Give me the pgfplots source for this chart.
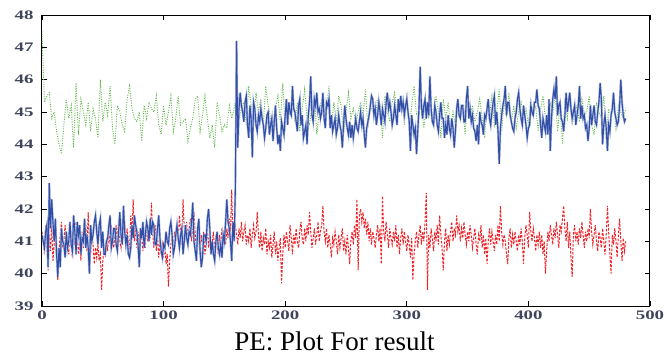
\documentclass[border=0pt]{standalone}
\usepackage{fontspec}
\usepackage{pgfplots}
\usepackage{pgfplotstable}
\pgfplotsset{compat=1.18}
\setmainfont{Liberation Serif}
\newfontfamily\tickfont[FakeStretch=1.45]{Liberation Serif Bold}
\definecolor{blueL}{RGB}{50,78,165}
\definecolor{blueH}{RGB}{178,190,228}
\definecolor{redL}{RGB}{238,34,40}
\definecolor{greenL}{RGB}{96,182,74}
\definecolor{tickc}{RGB}{64,68,92}

\pgfplotstableread[row sep=\\]{
y\\
41.2\\ 41.0\\ 40.8\\ 41.3\\ 41.5\\ 40.2\\ 42.8\\ 41.4\\ 42.3\\ 41.6\\
41.0\\ 41.7\\ 40.6\\ 39.9\\ 40.8\\ 40.2\\ 41.4\\ 41.0\\ 40.9\\ 40.5\\
41.3\\ 40.8\\ 41.0\\ 41.6\\ 40.9\\ 40.7\\ 41.8\\ 41.3\\ 40.6\\ 41.6\\
41.2\\ 41.5\\ 40.6\\ 41.1\\ 41.0\\ 41.7\\ 40.8\\ 41.2\\ 40.8\\ 40.0\\
41.5\\ 41.0\\ 41.2\\ 41.6\\ 41.8\\ 41.3\\ 40.9\\ 41.5\\ 41.7\\ 40.8\\
41.3\\ 40.6\\ 40.6\\ 41.0\\ 41.1\\ 41.5\\ 41.8\\ 40.8\\ 41.0\\ 41.4\\
41.4\\ 40.9\\ 40.7\\ 41.3\\ 41.9\\ 41.2\\ 40.9\\ 42.1\\ 41.3\\ 40.9\\
41.2\\ 40.6\\ 40.5\\ 40.8\\ 41.5\\ 41.1\\ 41.8\\ 41.5\\ 41.3\\ 40.9\\
40.2\\ 41.4\\ 41.1\\ 41.6\\ 40.8\\ 41.2\\ 41.6\\ 41.4\\ 41.0\\ 41.7\\
41.2\\ 41.6\\ 41.5\\ 40.9\\ 40.9\\ 41.4\\ 41.8\\ 41.1\\ 40.7\\ 40.5\\
40.9\\ 40.8\\ 41.3\\ 41.0\\ 40.9\\ 41.4\\ 41.6\\ 41.2\\ 40.6\\ 40.8\\
41.2\\ 41.5\\ 41.1\\ 40.8\\ 41.2\\ 41.4\\ 40.6\\ 41.0\\ 41.5\\ 41.1\\
40.9\\ 41.3\\ 41.2\\ 41.6\\ 42.2\\ 41.0\\ 40.7\\ 40.4\\ 41.4\\ 41.7\\
40.7\\ 40.2\\ 40.5\\ 41.2\\ 41.2\\ 41.0\\ 41.7\\ 42.0\\ 41.4\\ 40.6\\
41.0\\ 40.6\\ 40.4\\ 41.0\\ 41.3\\ 40.8\\ 40.6\\ 40.9\\ 40.5\\ 41.2\\
41.0\\ 41.6\\ 42.3\\ 41.6\\ 41.4\\ 41.0\\ 40.4\\ 41.6\\ 41.0\\ 42.6\\
47.2\\ 43.9\\ 45.1\\ 45.6\\ 45.2\\ 45.0\\ 44.7\\ 45.3\\ 45.5\\ 44.6\\
44.2\\ 45.2\\ 44.8\\ 43.6\\ 45.3\\ 45.1\\ 44.6\\ 44.4\\ 44.9\\ 44.7\\
45.1\\ 44.8\\ 44.6\\ 44.2\\ 44.5\\ 44.9\\ 45.0\\ 44.3\\ 44.6\\ 44.8\\
44.1\\ 44.7\\ 45.2\\ 44.5\\ 44.0\\ 44.3\\ 43.8\\ 44.7\\ 44.5\\ 44.3\\
44.9\\ 45.4\\ 44.6\\ 45.3\\ 45.0\\ 44.9\\ 45.8\\ 45.1\\ 45.0\\ 44.7\\
44.4\\ 45.2\\ 45.4\\ 44.6\\ 44.9\\ 44.2\\ 44.4\\ 44.6\\ 44.0\\ 44.9\\
45.3\\ 46.1\\ 44.9\\ 44.7\\ 45.4\\ 45.2\\ 45.6\\ 45.0\\ 45.1\\ 44.8\\
45.0\\ 45.6\\ 44.8\\ 44.5\\ 45.3\\ 45.2\\ 45.4\\ 44.5\\ 44.9\\ 44.4\\
44.6\\ 44.8\\ 44.3\\ 44.5\\ 44.9\\ 44.6\\ 44.4\\ 43.9\\ 44.6\\ 45.2\\
44.8\\ 44.5\\ 44.3\\ 44.7\\ 44.2\\ 44.6\\ 44.2\\ 44.5\\ 44.8\\ 44.5\\
44.4\\ 44.7\\ 45.0\\ 44.6\\ 44.8\\ 44.3\\ 43.9\\ 44.5\\ 44.7\\ 44.9\\
45.2\\ 45.5\\ 45.4\\ 44.9\\ 45.1\\ 44.6\\ 44.9\\ 45.3\\ 45.0\\ 44.6\\
45.1\\ 44.9\\ 44.7\\ 45.3\\ 45.6\\ 45.1\\ 45.3\\ 45.0\\ 44.6\\ 44.8\\
45.2\\ 44.9\\ 44.6\\ 45.4\\ 45.0\\ 45.5\\ 45.1\\ 45.3\\ 44.9\\ 45.2\\
45.4\\ 45.0\\ 44.7\\ 43.8\\ 44.9\\ 44.6\\ 44.3\\ 44.5\\ 43.7\\ 44.4\\
45.1\\ 46.4\\ 45.2\\ 44.8\\ 45.2\\ 45.4\\ 44.8\\ 45.3\\ 44.9\\ 46.1\\
45.1\\ 44.7\\ 44.6\\ 45.2\\ 45.0\\ 44.6\\ 44.4\\ 44.9\\ 45.3\\ 44.8\\
44.8\\ 44.2\\ 44.6\\ 44.3\\ 44.9\\ 44.5\\ 44.3\\ 44.8\\ 44.5\\ 43.9\\
44.4\\ 45.1\\ 45.4\\ 44.9\\ 44.8\\ 45.2\\ 45.2\\ 44.7\\ 44.7\\ 45.4\\
45.8\\ 44.8\\ 45.1\\ 44.7\\ 44.9\\ 44.5\\ 44.4\\ 44.1\\ 44.6\\ 44.0\\
45.0\\ 44.7\\ 44.6\\ 44.3\\ 44.9\\ 44.8\\ 45.1\\ 45.4\\ 44.8\\ 44.6\\
45.0\\ 45.3\\ 45.5\\ 44.6\\ 45.0\\ 44.4\\ 43.4\\ 44.5\\ 44.9\\ 45.2\\
45.4\\ 45.8\\ 44.9\\ 45.3\\ 45.3\\ 44.9\\ 44.7\\ 44.5\\ 44.4\\ 44.8\\
45.0\\ 45.4\\ 45.6\\ 45.1\\ 44.8\\ 44.6\\ 45.2\\ 44.9\\ 44.6\\ 44.2\\
44.5\\ 44.6\\ 45.2\\ 45.0\\ 44.9\\ 45.3\\ 45.3\\ 45.7\\ 45.2\\ 45.1\\
44.6\\ 44.2\\ 44.8\\ 44.6\\ 44.4\\ 44.9\\ 44.3\\ 45.4\\ 43.8\\ 44.8\\
45.4\\ 45.7\\ 45.4\\ 46.1\\ 44.9\\ 45.2\\ 45.3\\ 44.8\\ 44.7\\ 44.4\\
44.9\\ 45.6\\ 45.0\\ 45.3\\ 45.6\\ 45.1\\ 44.8\\ 45.0\\ 45.2\\ 44.6\\
44.9\\ 45.2\\ 45.8\\ 44.8\\ 45.2\\ 44.8\\ 44.9\\ 44.5\\ 44.6\\ 44.1\\
44.5\\ 45.2\\ 44.6\\ 44.9\\ 45.2\\ 44.7\\ 44.6\\ 45.0\\ 45.3\\ 45.9\\
45.4\\ 44.0\\ 44.6\\ 44.9\\ 44.5\\ 43.8\\ 44.6\\ 44.4\\ 44.9\\ 45.1\\
45.6\\ 45.0\\ 44.8\\ 44.6\\ 44.7\\ 45.2\\ 46.0\\ 45.3\\ 44.9\\ 44.7\\
44.8\\
}\blueT

\begin{document}
\begin{tikzpicture}
\path[use as bounding box] (-42pt,-54pt) rectangle (625pt,306pt);
\begin{axis}[
  scale only axis,
  width=608pt, height=291pt,
  xmin=0, xmax=500, ymin=39, ymax=48,
  xtick={0,100,...,500}, ytick={39,40,...,48},
  tick align=inside,
  major tick length=5pt,
  tick style={black, line width=0.8pt},
  axis line style={line width=1pt},
  ticklabel style={font=\tickfont\fontsize{13}{13}\selectfont, text=tickc},
  /pgf/number format/assume math mode=true,
  yticklabel style={xshift=-5pt},
  xticklabel style={yshift=-1pt},
  xlabel={PE: Plot For result},
  xlabel style={font=\fontsize{27}{29}\selectfont, at={(rel axis cs:0.481,0)}, anchor=base, yshift=-44pt},
  clip=true,
]
\addplot[greenL, line width=0.9pt, dash pattern=on 1pt off 1.4pt] table[row sep=\\, x expr=\coordindex*2, y index=0] {
y\\
47.5\\ 45.3\\ 45.5\\ 45.6\\ 44.8\\ 45.0\\ 44.4\\ 44.0\\ 43.7\\ 44.6\\
45.4\\ 44.8\\ 45.2\\ 43.9\\ 45.9\\ 44.3\\ 45.4\\ 45.0\\ 44.6\\ 45.3\\
44.4\\ 45.1\\ 44.8\\ 44.2\\ 46.0\\ 44.7\\ 45.3\\ 44.9\\ 45.8\\ 44.5\\
44.0\\ 45.2\\ 45.0\\ 44.6\\ 44.4\\ 45.4\\ 45.8\\ 45.1\\ 44.8\\ 44.7\\
45.0\\ 44.1\\ 45.2\\ 44.8\\ 45.3\\ 45.1\\ 45.0\\ 45.5\\ 44.6\\ 44.3\\
45.2\\ 44.6\\ 45.0\\ 45.5\\ 44.4\\ 44.8\\ 45.5\\ 44.6\\ 44.7\\ 44.8\\
44.1\\ 44.5\\ 44.8\\ 45.4\\ 45.5\\ 44.4\\ 44.9\\ 45.5\\ 44.8\\ 44.2\\
44.6\\ 43.9\\ 45.3\\ 44.9\\ 44.4\\ 44.6\\ 44.5\\ 45.2\\ 44.8\\ 45.1\\
45.5\\ 44.8\\ 45.1\\ 45.3\\ 44.6\\ 45.8\\ 45.2\\ 44.8\\ 45.6\\ 45.0\\
45.4\\ 44.6\\ 45.8\\ 45.2\\ 44.8\\ 44.3\\ 45.1\\ 45.5\\ 44.7\\ 45.9\\
44.5\\ 45.0\\ 44.9\\ 45.6\\ 44.7\\ 45.3\\ 44.4\\ 45.1\\ 45.7\\ 44.8\\
44.6\\ 45.2\\ 45.5\\ 44.3\\ 45.0\\ 45.4\\ 44.9\\ 45.1\\ 45.8\\ 44.5\\
45.3\\ 44.7\\ 45.5\\ 45.2\\ 44.3\\ 45.0\\ 45.6\\ 44.8\\ 45.1\\ 44.6\\
45.0\\ 45.3\\ 44.9\\ 45.7\\ 44.5\\ 45.2\\ 45.0\\ 44.8\\ 45.4\\ 45.3\\
44.2\\ 45.5\\ 45.0\\ 44.7\\ 45.3\\ 45.6\\ 44.9\\ 45.1\\ 45.5\\ 44.6\\
45.6\\ 44.4\\ 45.2\\ 45.8\\ 44.9\\ 45.0\\ 45.3\\ 44.5\\ 45.1\\ 44.8\\
45.2\\ 44.6\\ 45.5\\ 45.0\\ 44.2\\ 45.4\\ 44.8\\ 45.3\\ 44.5\\ 45.0\\
44.6\\ 45.4\\ 44.8\\ 45.1\\ 44.3\\ 45.6\\ 44.9\\ 45.2\\ 44.7\\ 45.0\\
45.4\\ 44.8\\ 44.2\\ 45.3\\ 44.9\\ 45.5\\ 44.6\\ 45.0\\ 45.7\\ 44.4\\
45.3\\ 44.9\\ 45.6\\ 44.7\\ 45.2\\ 44.5\\ 45.0\\ 45.3\\ 44.8\\ 45.1\\
44.6\\ 45.4\\ 44.9\\ 45.2\\ 44.4\\ 45.1\\ 45.5\\ 44.8\\ 44.3\\ 45.3\\
44.9\\ 45.6\\ 44.4\\ 45.2\\ 44.0\\ 45.3\\ 44.8\\ 45.5\\ 44.6\\ 45.0\\
45.2\\ 44.7\\ 45.4\\ 44.9\\ 45.0\\ 45.5\\ 44.6\\ 44.3\\ 45.3\\ 45.0\\
44.8\\ 45.5\\ 44.2\\ 45.1\\ 44.9\\ 45.6\\ 44.4\\ 45.2\\ 45.0\\ 44.8\\
45.1\\
};
\addplot[redL, line width=1pt, dash pattern=on 2.5pt off 1.5pt] table[row sep=\\, x expr=\coordindex, y index=0] {
y\\
41.3\\ 41.0\\ 40.6\\ 41.5\\ 40.9\\ 40.1\\ 41.2\\ 40.7\\ 41.6\\ 40.4\\
40.9\\ 41.3\\ 40.5\\ 39.8\\ 40.7\\ 41.2\\ 41.6\\ 40.8\\ 41.0\\ 41.5\\
40.7\\ 41.1\\ 40.6\\ 41.4\\ 41.0\\ 40.5\\ 41.2\\ 40.9\\ 41.6\\ 41.1\\
40.6\\ 41.0\\ 40.4\\ 41.3\\ 40.8\\ 41.1\\ 41.5\\ 40.7\\ 41.9\\ 41.0\\
40.6\\ 41.2\\ 40.9\\ 40.3\\ 40.8\\ 40.5\\ 40.9\\ 40.4\\ 40.6\\ 39.5\\
40.4\\ 40.8\\ 40.6\\ 41.0\\ 40.7\\ 41.3\\ 40.9\\ 41.5\\ 41.1\\ 40.8\\
41.2\\ 41.5\\ 40.9\\ 41.7\\ 41.0\\ 40.8\\ 41.4\\ 41.1\\ 41.6\\ 40.9\\
41.4\\ 41.0\\ 40.6\\ 41.8\\ 41.2\\ 42.3\\ 41.0\\ 41.5\\ 40.8\\ 41.3\\
40.9\\ 41.4\\ 41.1\\ 40.7\\ 41.3\\ 40.8\\ 41.6\\ 41.0\\ 41.4\\ 41.1\\
42.2\\ 41.3\\ 40.8\\ 41.5\\ 40.7\\ 41.2\\ 40.5\\ 41.0\\ 40.6\\ 40.9\\
40.5\\ 41.0\\ 40.3\\ 40.6\\ 39.6\\ 40.4\\ 40.9\\ 41.2\\ 40.7\\ 41.3\\
41.0\\ 41.5\\ 41.1\\ 41.8\\ 41.3\\ 40.9\\ 42.3\\ 41.4\\ 41.1\\ 41.6\\
40.9\\ 41.3\\ 41.7\\ 41.0\\ 41.5\\ 41.9\\ 41.2\\ 40.8\\ 41.4\\ 41.1\\
40.7\\ 41.2\\ 40.9\\ 41.3\\ 40.6\\ 41.0\\ 41.4\\ 40.8\\ 41.2\\ 40.6\\
41.0\\ 41.3\\ 40.7\\ 41.1\\ 40.9\\ 40.6\\ 41.2\\ 40.8\\ 41.4\\ 41.0\\
41.2\\ 40.9\\ 41.4\\ 41.1\\ 41.7\\ 41.3\\ 42.6\\ 41.0\\ 41.3\\ 41.5\\
41.2\\ 40.9\\ 41.4\\ 41.1\\ 41.6\\ 41.0\\ 41.3\\ 41.5\\ 40.9\\ 41.2\\
41.0\\ 41.4\\ 40.8\\ 41.2\\ 41.5\\ 41.1\\ 41.3\\ 41.9\\ 41.2\\ 40.8\\
41.3\\ 40.7\\ 41.1\\ 40.9\\ 41.4\\ 40.6\\ 41.0\\ 40.8\\ 41.2\\ 40.5\\
40.9\\ 41.3\\ 40.6\\ 41.0\\ 40.4\\ 40.8\\ 41.1\\ 39.7\\ 40.6\\ 41.2\\
40.8\\ 41.3\\ 41.0\\ 40.7\\ 41.5\\ 41.1\\ 40.6\\ 41.2\\ 40.9\\ 41.4\\
41.0\\ 40.8\\ 41.3\\ 41.6\\ 41.1\\ 40.9\\ 41.4\\ 41.0\\ 41.5\\ 41.2\\
41.9\\ 41.3\\ 40.8\\ 41.1\\ 41.4\\ 40.9\\ 41.2\\ 41.6\\ 41.0\\ 41.3\\
41.5\\ 42.1\\ 41.3\\ 41.0\\ 41.4\\ 40.8\\ 41.2\\ 40.9\\ 40.5\\ 41.1\\
40.9\\ 41.3\\ 41.0\\ 40.6\\ 41.2\\ 40.8\\ 41.1\\ 41.4\\ 40.7\\ 41.0\\
40.6\\ 41.2\\ 40.8\\ 40.3\\ 41.0\\ 41.3\\ 40.9\\ 41.5\\ 41.1\\ 42.3\\
40.1\\ 41.8\\ 42.0\\ 41.6\\ 41.9\\ 41.4\\ 41.7\\ 41.2\\ 41.6\\ 41.0\\
41.4\\ 40.9\\ 41.3\\ 41.1\\ 40.8\\ 41.2\\ 41.5\\ 41.0\\ 41.4\\ 40.3\\
42.4\\ 41.3\\ 41.0\\ 41.6\\ 41.2\\ 40.8\\ 41.4\\ 41.1\\ 40.9\\ 41.3\\
41.0\\ 41.5\\ 40.8\\ 41.2\\ 40.6\\ 41.1\\ 41.4\\ 40.9\\ 41.3\\ 41.0\\
40.7\\ 41.2\\ 40.9\\ 40.5\\ 41.1\\ 39.8\\ 40.6\\ 41.0\\ 41.3\\ 40.8\\
41.2\\ 41.5\\ 40.9\\ 41.3\\ 41.0\\ 41.6\\ 42.5\\ 39.5\\ 41.2\\ 40.8\\
41.4\\ 41.1\\ 40.7\\ 41.3\\ 41.0\\ 41.5\\ 40.9\\ 41.8\\ 41.2\\ 40.8\\
40.1\\ 41.0\\ 41.4\\ 40.7\\ 41.2\\ 40.9\\ 41.3\\ 41.6\\ 41.0\\ 41.4\\
41.2\\ 41.8\\ 41.3\\ 41.5\\ 41.0\\ 41.4\\ 41.1\\ 41.6\\ 41.2\\ 40.9\\
41.3\\ 41.0\\ 41.5\\ 41.2\\ 40.8\\ 41.1\\ 41.4\\ 40.9\\ 40.6\\ 41.2\\
41.0\\ 41.5\\ 40.8\\ 41.2\\ 40.6\\ 41.1\\ 40.3\\ 41.0\\ 41.4\\ 40.9\\
41.3\\ 41.0\\ 40.7\\ 41.2\\ 40.9\\ 41.5\\ 41.0\\ 42.1\\ 41.3\\ 40.9\\
41.2\\ 41.0\\ 40.6\\ 40.3\\ 41.1\\ 41.4\\ 40.8\\ 41.2\\ 40.9\\ 41.3\\
41.0\\ 40.7\\ 41.2\\ 40.9\\ 41.4\\ 41.0\\ 40.3\\ 41.1\\ 41.5\\ 41.2\\
40.8\\ 41.9\\ 41.3\\ 41.0\\ 41.4\\ 41.1\\ 40.7\\ 41.2\\ 40.9\\ 41.3\\
40.8\\ 41.2\\ 40.6\\ 41.0\\ 40.0\\ 40.7\\ 41.3\\ 41.0\\ 41.5\\ 41.2\\
40.9\\ 41.4\\ 41.1\\ 41.6\\ 41.2\\ 40.8\\ 41.5\\ 41.3\\ 41.7\\ 42.1\\
41.4\\ 41.0\\ 41.6\\ 40.8\\ 41.3\\ 40.5\\ 39.9\\ 41.2\\ 41.5\\ 41.0\\
41.3\\ 40.9\\ 41.4\\ 41.1\\ 41.6\\ 41.2\\ 40.8\\ 41.3\\ 41.0\\ 41.4\\
41.1\\ 42.0\\ 41.3\\ 40.9\\ 41.2\\ 41.5\\ 41.0\\ 40.7\\ 41.3\\ 41.1\\
40.8\\ 41.4\\ 41.0\\ 40.6\\ 41.2\\ 42.1\\ 41.3\\ 40.6\\ 40.0\\ 41.2\\
40.9\\ 41.4\\ 41.0\\ 40.5\\ 41.2\\ 41.7\\ 41.0\\ 40.4\\ 41.1\\ 40.7\\
41.0\\
};
\addplot[blueH, line width=2.2pt] table[x expr=\coordindex, y index=0] {\blueT};
\addplot[blueL, line width=1.1pt] table[x expr=\coordindex, y index=0] {\blueT};
\end{axis}
\end{tikzpicture}
\end{document}
